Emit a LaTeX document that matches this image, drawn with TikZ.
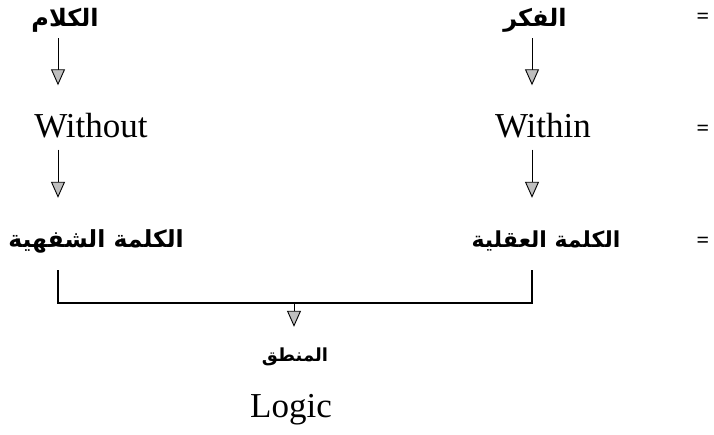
\documentclass[tikz,border=0pt]{standalone}
\usepackage{fontspec}
\setmainfont{Liberation Serif}
\newfontfamily\arabicfont[Script=Arabic]{DejaVu Sans}
\TeXXeTstate=1
\usetikzlibrary{arrows.meta,calc}
\tikzset{
  lat/.style={inner sep=0pt, text height=25pt, text depth=0pt, font=\fontsize{35}{40}\selectfont},
  arab/.style={inner sep=0pt, text height=14pt, text depth=6pt, font=\arabicfont\bfseries\fontsize{24}{28}\selectfont},
  eq/.style={inner sep=0pt, font=\bfseries\fontsize{22}{24}\selectfont},
  arr/.style={line width=0.9pt, -{Triangle[width=14pt,length=16pt,fill=gray!50,line width=0.9pt]}},
  ln/.style={line width=1.4pt}
}
\begin{document}
\begin{tikzpicture}[x=1pt,y=-1pt]
\useasboundingbox (0,0) rectangle (714,434);
% column coordinates
\coordinate (cl) at (58,0);
\coordinate (cr) at (532,0);
% row 1
\node[arab] (kalam) at (65,22) {\beginR الكلام\endR};
\node[arab] (fikr) at (535,22) {\beginR الفكر\endR};
\node[eq] (e1) at (703,18) {=};
% row 2
\node[lat] (without) at (91,125) {Without};
\node[lat] (within) at (543,125) {Within};
\node[eq] (e2) at (703,130) {=};
% row 3
\node[arab,font=\arabicfont\bfseries\fontsize{23.5}{28}\selectfont] (shafahi) at (96,243) {\beginR الكلمة الشفهية\endR};
\node[arab,font=\arabicfont\bfseries\fontsize{22}{26}\selectfont] (aqli) at (546,243) {\beginR الكلمة العقلية\endR};
\node[eq] (e3) at (703,242) {=};
% bottom
\coordinate (hl) at (58,303);
\coordinate (hr) at (532,303);
\coordinate (hm) at (294,303);
\node[arab,font=\arabicfont\bfseries\fontsize{18}{22}\selectfont] (mantiq) at (295,357) {\beginR المنطق\endR};
\node[lat] (logic) at (291,405) {Logic};
% arrows
\draw[arr] ($(kalam.south -| cl)+(0,6)$) -- ($(without.north -| cl)+(0,-27)$);
\draw[arr] ($(fikr.south -| cr)+(0,6)$) -- ($(within.north -| cr)+(0,-27)$);
\draw[arr] ($(without.south -| cl)+(0,12)$) -- ($(shafahi.north -| cl)+(0,-35)$);
\draw[arr] ($(within.south -| cr)+(0,12)$) -- ($(aqli.north -| cr)+(0,-35)$);
\draw[ln] ($(shafahi.south -| cl)+(0,17)$) -- (hl) -- (hr) -- ($(aqli.south -| cr)+(0,17)$);
\draw[arr] (hm) -- ($(mantiq.north)+(-1,-20)$);
\end{tikzpicture}
\end{document}
